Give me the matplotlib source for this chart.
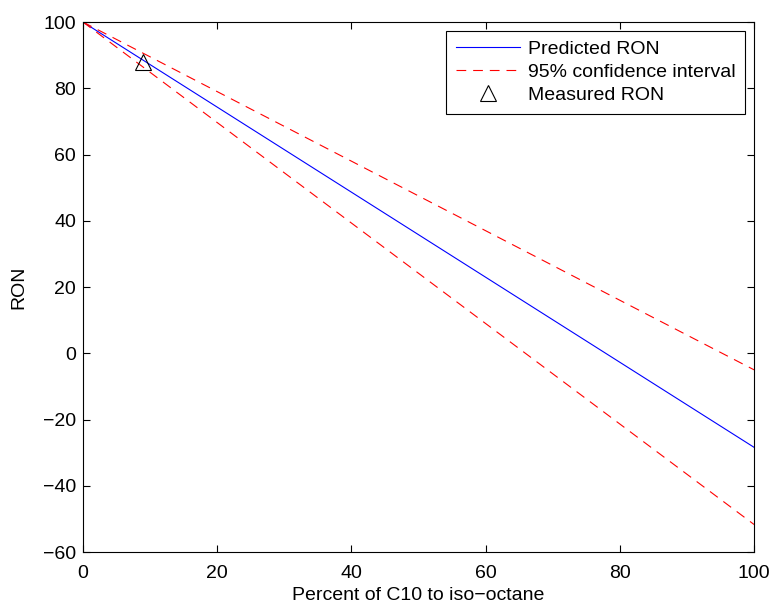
import numpy as np
import matplotlib
matplotlib.use('Agg')
import matplotlib.pyplot as plt

# data
pct_c10 = [0, 100]
ron_pred = [100, -28.4]
ron_upper = [100, -5.0]
ron_lower = [100, -51.7]
meas_x = [9]
meas_y = [88]

plt.rcParams['font.family'] = ['Liberation Sans', 'DejaVu Sans']
plt.rcParams['font.size'] = 14
plt.rcParams['lines.scale_dashes'] = False

fig = plt.figure(figsize=(7.75, 6.05), dpi=100)
ax = fig.add_axes([0.107, 0.0876, 0.866, 0.876])

ax.plot(pct_c10, ron_pred, color='blue', lw=0.8, label='Predicted RON')
ax.plot(pct_c10, ron_upper, color='red', lw=0.8, dashes=(7, 5), label='95% confidence interval')
ax.plot(pct_c10, ron_lower, color='red', lw=0.8, dashes=(7, 5))
ax.plot(meas_x, meas_y, ls='none', marker='^', ms=11, mfc='none', mec='black', mew=0.8,
        label='Measured RON')

ax.set_xlim(0, 100)
ax.set_ylim(-60, 100)
ax.set_xticks(np.arange(0, 101, 20))
ax.set_yticks(np.arange(-60, 101, 20))
ax.tick_params(direction='in', length=5, width=0.8, top=True, right=True, labelsize=14)
ax.tick_params(axis='x', pad=9)
ax.tick_params(axis='y', pad=5)
for s in ax.spines.values():
    s.set_linewidth(0.8)

ax.set_xlabel('Percent of C10 to iso\u2212octane', fontsize=14, labelpad=4)
ax.set_ylabel('RON', fontsize=14, labelpad=11)

leg = ax.legend(loc='upper right', fontsize=14, fancybox=False, framealpha=1,
                edgecolor='black', handlelength=3.3, borderaxespad=0.45,
                labelspacing=0.28, borderpad=0.5, handletextpad=0.4)
leg.get_frame().set_linewidth(0.8)

fig.savefig('out.png', dpi=100)
